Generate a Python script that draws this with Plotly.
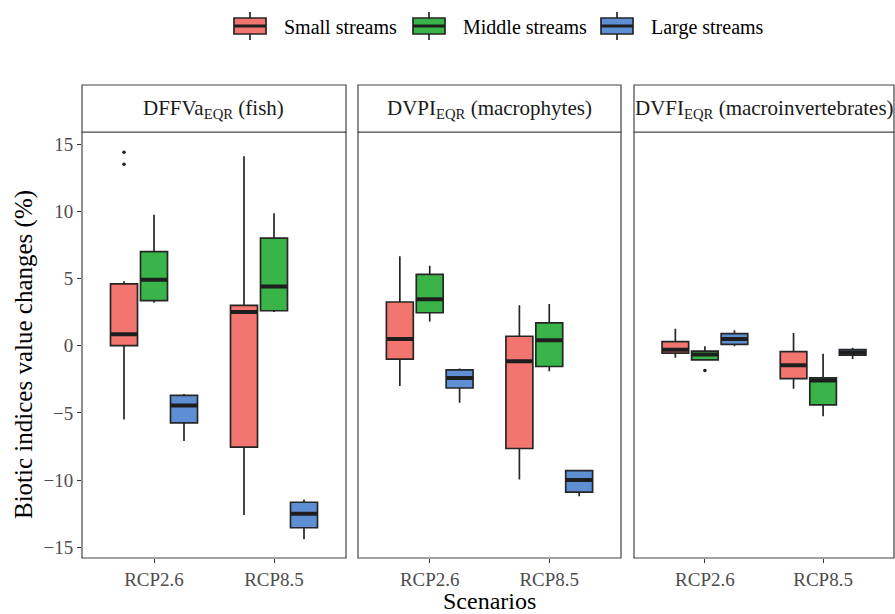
import plotly.graph_objects as go

# ---- data: rows = stream size (small, middle, large), cols = scenario ----
scenarios = ["RCP2.6", "RCP8.5"]
groups = ["Small streams", "Middle streams", "Large streams"]

fish_lower = [[-5.5, -12.6], [3.2, 2.5], [-7.1, -14.4]]
fish_q1 = [[0.0, -7.55], [3.35, 2.6], [-5.75, -13.55]]
fish_median = [[0.85, 2.5], [4.9, 4.4], [-4.45, -12.5]]
fish_q3 = [[4.6, 3.0], [7.0, 8.0], [-3.7, -11.65]]
fish_upper = [[4.8, 14.1], [9.75, 9.85], [-3.6, -11.45]]
fish_outliers = [[[14.4, 13.5], []], [[], []], [[], []]]

macro_lower = [[-3.0, -9.95], [1.8, -1.9], [-4.25, -11.2]]
macro_q1 = [[-1.0, -7.65], [2.45, -1.55], [-3.15, -10.9]]
macro_median = [[0.5, -1.15], [3.45, 0.4], [-2.4, -10.0]]
macro_q3 = [[3.25, 0.7], [5.3, 1.7], [-1.8, -9.3]]
macro_upper = [[6.65, 3.0], [5.95, 3.1], [-1.7, -9.25]]
macro_outliers = [[[], []], [[], []], [[], []]]

inv_lower = [[-0.9, -3.2], [-1.1, -5.25], [-0.05, -1.0]]
inv_q1 = [[-0.55, -2.45], [-1.05, -4.4], [0.1, -0.7]]
inv_median = [[-0.3, -1.45], [-0.65, -2.6], [0.5, -0.5]]
inv_q3 = [[0.3, -0.45], [-0.4, -2.4], [0.9, -0.3]]
inv_upper = [[1.25, 0.95], [-0.05, -0.6], [1.15, -0.15]]
inv_outliers = [[[], []], [[-1.85], []], [[], []]]

panel_titles = [
    "DFFVa<sub>EQR</sub> (fish)",
    "DVPI<sub>EQR</sub> (macrophytes)",
    "DVFI<sub>EQR</sub> (macroinvertebrates)",
]
y_ticks = [-15, -10, -5, 0, 5, 10, 15]

panels = [
    (fish_lower, fish_q1, fish_median, fish_q3, fish_upper, fish_outliers),
    (macro_lower, macro_q1, macro_median, macro_q3, macro_upper, macro_outliers),
    (inv_lower, inv_q1, inv_median, inv_q3, inv_upper, inv_outliers),
]

# ---- styling ----
W, H = 895, 614
FONT = "Liberation Serif, Times New Roman, serif"
fills = ["#F2766F", "#38B449", "#5E8FD4"]
edge = "#262626"
frame = "#444444"
tick_grey = "#4d4d4d"


def px(x):
    return x / W


def py(y):
    return 1 - y / H


x_domains = [(82, 346), (358, 621), (634, 894)]
plot_top, plot_bottom = 132, 558
strip_top = 85

fig = go.Figure()
axis_names = ["x", "x2", "x3"]

for p, (lo, q1, med, q3, hi, outl) in enumerate(panels):
    xa = axis_names[p]
    for g, name in enumerate(groups):
        common = dict(xaxis=xa, yaxis="y", offsetgroup=name,
                      alignmentgroup=f"panel{p}", showlegend=False,
                      hoverinfo="skip")
        fig.add_trace(go.Box(
            x=scenarios, q1=q1[g], median=med[g], q3=q3[g],
            lowerfence=lo[g], upperfence=hi[g], name=name,
            fillcolor=fills[g], line=dict(color=edge, width=1.7),
            whiskerwidth=0, boxpoints=False, **common))
        # thicker median bar drawn on top of the box
        fig.add_trace(go.Box(
            x=scenarios, q1=med[g], median=med[g], q3=med[g],
            lowerfence=med[g], upperfence=med[g], name=name,
            fillcolor="rgba(0,0,0,0)", line=dict(color="#1e1e1e", width=4),
            whiskerwidth=0, boxpoints=False, **common))
        # outlying observations
        ox, oy = [], []
        for s, vals in enumerate(outl[g]):
            for v in vals:
                ox.append(scenarios[s])
                oy.append(v)
        if oy:
            fig.add_trace(go.Box(
                x=ox, y=oy, name=name, boxpoints="all", jitter=0, pointpos=0,
                fillcolor="rgba(0,0,0,0)", line=dict(color="rgba(0,0,0,0)", width=0),
                marker=dict(color="#1e1e1e", size=3.5), whiskerwidth=0,
                **common))

layout = dict(
    width=W, height=H,
    margin=dict(l=0, r=0, t=0, b=0),
    paper_bgcolor="white", plot_bgcolor="white",
    boxmode="group", boxgap=0.25, boxgroupgap=0.1,
    showlegend=False,
    font=dict(family=FONT, color="black"),
    yaxis=dict(domain=[py(plot_bottom), py(plot_top)], range=[-15.8, 15.9],
               tickvals=y_ticks, ticks="outside", ticklen=4, tickwidth=1,
               tickcolor="#333333", showgrid=False, zeroline=False,
               showline=False, anchor="x",
               tickfont=dict(family=FONT, size=19, color=tick_grey)),
)
for p, xa in enumerate(axis_names):
    key = "xaxis" if p == 0 else f"xaxis{p + 1}"
    layout[key] = dict(
        domain=[px(x_domains[p][0]), px(x_domains[p][1])],
        type="category", categoryorder="array", categoryarray=scenarios,
        range=[-0.6, 1.6], ticks="outside", ticklen=4, tickwidth=1,
        tickcolor="#333333", showgrid=False, zeroline=False, showline=False,
        anchor="y", tickfont=dict(family=FONT, size=19, color=tick_grey))
fig.update_layout(**layout)

shapes = []
annotations = []
for p, xa in enumerate(axis_names):
    xref = f"{xa} domain"
    # panel frame
    shapes.append(dict(type="rect", xref=xref, yref="y domain", x0=0, x1=1,
                       y0=0, y1=1, line=dict(color=frame, width=1.2),
                       fillcolor="rgba(0,0,0,0)", layer="above"))
    # strip
    shapes.append(dict(type="rect", xref=xref, yref="paper", x0=0, x1=1,
                       y0=py(plot_top), y1=py(strip_top),
                       line=dict(color=frame, width=1.2), fillcolor="white"))
    annotations.append(dict(text=panel_titles[p], xref=xref, yref="paper",
                            x=0.5, y=py((plot_top + strip_top) / 2 + 1),
                            showarrow=False, xanchor="center", yanchor="middle",
                            font=dict(family=FONT, size=21, color="#1a1a1a")))

# axis titles
annotations.append(dict(text="Biotic indices value changes (%)", xref="paper",
                        yref="paper", x=px(24), y=py(355), textangle=-90,
                        showarrow=False, xanchor="center", yanchor="middle",
                        font=dict(family=FONT, size=25, color="black")))
annotations.append(dict(text="Scenarios", xref="paper", yref="paper",
                        x=px(489), y=py(601), showarrow=False,
                        xanchor="center", yanchor="middle",
                        font=dict(family=FONT, size=24, color="black")))

# legend keys drawn as small boxplots
key_left = [234, 413, 601]
key_w, key_top, key_bot, wh_top, wh_bot = 32, 18, 34, 12, 40
for g, name in enumerate(groups):
    x0 = key_left[g]
    xm = x0 + key_w / 2
    shapes.append(dict(type="line", xref="paper", yref="paper",
                       x0=px(xm), x1=px(xm), y0=py(wh_top), y1=py(wh_bot),
                       line=dict(color=edge, width=1.7)))
    shapes.append(dict(type="rect", xref="paper", yref="paper",
                       x0=px(x0), x1=px(x0 + key_w), y0=py(key_bot), y1=py(key_top),
                       fillcolor=fills[g], line=dict(color=edge, width=1.7)))
    shapes.append(dict(type="line", xref="paper", yref="paper",
                       x0=px(x0), x1=px(x0 + key_w),
                       y0=py((key_top + key_bot) / 2), y1=py((key_top + key_bot) / 2),
                       line=dict(color="#1e1e1e", width=3)))
    annotations.append(dict(text=name, xref="paper", yref="paper",
                            x=px(x0 + key_w + 16), y=py(27), showarrow=False,
                            xanchor="left", yanchor="middle",
                            font=dict(family=FONT, size=20, color="black")))

fig.update_layout(shapes=shapes, annotations=annotations)
fig.write_html("out.html")
